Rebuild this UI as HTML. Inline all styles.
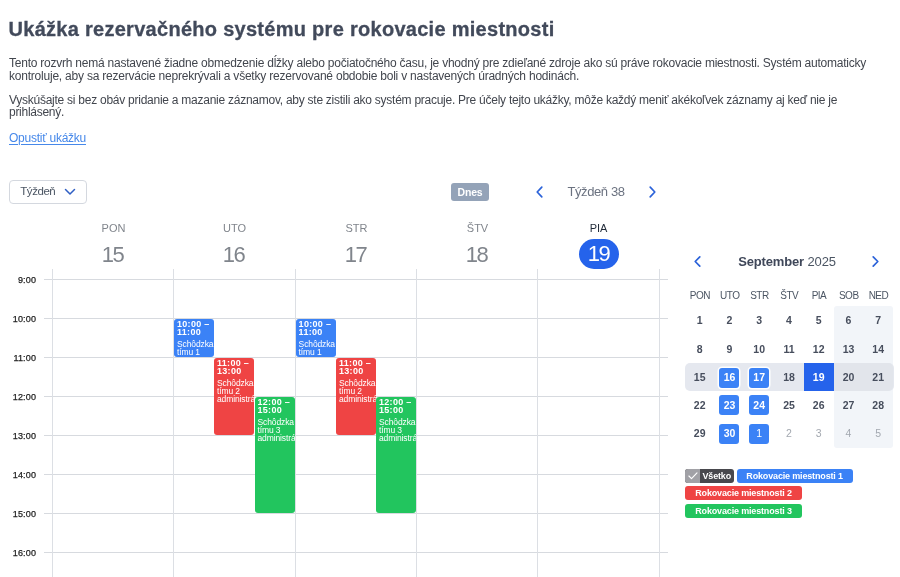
<!DOCTYPE html>
<html lang="sk">
<head>
<meta charset="utf-8">
<title>Ukážka rezervačného systému</title>
<style>
*{box-sizing:border-box;margin:0;padding:0}
html,body{width:900px;height:577px;overflow:hidden;background:#fff}
body{font-family:"Liberation Sans",sans-serif;color:#374151;position:relative}
#root{position:absolute;left:0;top:0;width:900px;height:577px;overflow:hidden;will-change:transform;transform:translateZ(0)}
.abs{position:absolute;white-space:nowrap}
h1{position:absolute;left:8.5px;top:15.7px;font-size:20px;line-height:26px;font-weight:bold;color:#424a5b;-webkit-text-stroke:0.3px #424a5b;white-space:nowrap;letter-spacing:0.282px}
.p{position:absolute;left:9px;font-size:12px;line-height:13px;color:#42464e;white-space:nowrap}
a.link{position:absolute;left:9px;top:130.7px;font-size:12px;line-height:14px;letter-spacing:-0.253px;color:#4688ea;text-decoration:underline;text-decoration-thickness:0.8px;text-underline-offset:1.5px;white-space:nowrap}
.sel{position:absolute;left:9px;top:180px;width:78px;height:24px;border:1px solid #d4d8df;border-radius:4px;background:#fff}
.sel span{position:absolute;left:10.3px;top:3.1px;font-size:11.5px;line-height:14px;color:#4b5563;letter-spacing:-0.45px}
.sel svg{position:absolute;left:54.3px;top:7px}
.dnes{position:absolute;left:451px;top:183px;width:38px;height:18px;border-radius:3px;background:#94a3b8;color:#fff;font-size:10.5px;line-height:18px;text-align:center;font-weight:bold;letter-spacing:-0.2px}
.wk{position:absolute;left:546px;top:184px;width:100px;text-align:center;letter-spacing:-0.4px;font-size:13px;line-height:16px;color:#6b7280}
.dn{position:absolute;top:220.6px;width:121px;padding-left:2px;text-align:center;font-size:11px;line-height:14px;color:#80858c}
.dd{position:absolute;top:241.2px;width:121px;text-align:center;font-size:22px;line-height:27px;color:#80858c;letter-spacing:-1.4px}
.pill{position:absolute;left:578.5px;top:239.3px;width:40px;height:29.3px;border-radius:15px;background:#2563eb;color:#fff;font-size:22px;line-height:29px;text-align:center;letter-spacing:-1.4px}
.hl{position:absolute;left:44px;width:624px;height:1px;background:#d7dadf}
.vl{position:absolute;top:269px;width:1px;height:308px;background:#dcdfe4}
.tm{position:absolute;left:0;width:36.2px;text-align:right;font-size:9px;line-height:13px;color:#222;margin-top:0.4px;letter-spacing:0.18px;-webkit-text-stroke:0.25px #222}
.ev{position:absolute;width:40px;border-radius:3px;color:#fff;overflow:hidden;padding:0 0 0 3px;font-size:8.5px;letter-spacing:-0.12px;line-height:8px;white-space:nowrap}
.ev b{display:block;font-size:9px;line-height:8.8px;letter-spacing:0.3px;padding-top:0.7px}
.ev i{display:block;height:2.6px}
.blue{background:#3b82f6}.red{background:#ef4444}.green{background:#22c55e}
</style>
</head>
<body>
<div id="root">
<h1>Ukážka rezervačného systému pre rokovacie miestnosti</h1>
<div class="p" style="top:57px;letter-spacing:-0.231px">Tento rozvrh nemá nastavené žiadne obmedzenie dĺžky alebo počiatočného času, je vhodný pre zdieľané zdroje ako sú práve rokovacie miestnosti. Systém automaticky</div>
<div class="p" style="top:70px;letter-spacing:-0.217px">kontroluje, aby sa rezervácie neprekrývali a všetky rezervované obdobie boli v nastavených úradných hodinách.</div>
<div class="p" style="top:93.6px;letter-spacing:-0.255px">Vyskúšajte si bez obáv pridanie a mazanie záznamov, aby ste zistili ako systém pracuje. Pre účely tejto ukážky, môže každý meniť akékoľvek záznamy aj keď nie je</div>
<div class="p" style="top:106.4px;letter-spacing:-0.276px">prihlásený.</div>
<a class="link">Opustiť ukážku</a>

<div class="sel"><span>Týždeň</span><svg width="12" height="8" viewBox="0 0 12 8"><path d="M1.5 1.5 L6 6 L10.5 1.5" fill="none" stroke="#2f5fc4" stroke-width="1.5" stroke-linecap="round" stroke-linejoin="round"/></svg></div>
<div class="dnes">Dnes</div>
<svg class="abs" style="left:535px;top:185px" width="9" height="14" viewBox="0 0 9 14"><path d="M6.8 2.2 L2.2 7 L6.8 11.8" fill="none" stroke="#2b62d9" stroke-width="1.7" stroke-linecap="round" stroke-linejoin="round"/></svg>
<div class="wk">Týždeň 38</div>
<svg class="abs" style="left:648px;top:185px" width="9" height="14" viewBox="0 0 9 14"><path d="M2.2 2.2 L6.8 7 L2.2 11.8" fill="none" stroke="#2b62d9" stroke-width="1.7" stroke-linecap="round" stroke-linejoin="round"/></svg>

<div class="dn" style="left:52px">PON</div><div class="dd" style="left:52px">15</div>
<div class="dn" style="left:173px">UTO</div><div class="dd" style="left:173px">16</div>
<div class="dn" style="left:295px">STR</div><div class="dd" style="left:295px">17</div>
<div class="dn" style="left:416px">ŠTV</div><div class="dd" style="left:416px">18</div>
<div class="dn" style="left:537px;color:#1f2937">PIA</div><div class="pill">19</div>

<div class="hl" style="top:279px"></div><div class="hl" style="top:318px"></div><div class="hl" style="top:357px"></div><div class="hl" style="top:396px"></div><div class="hl" style="top:435px"></div><div class="hl" style="top:474px"></div><div class="hl" style="top:513px"></div><div class="hl" style="top:552px"></div>
<div class="vl" style="left:52px"></div><div class="vl" style="left:173px"></div><div class="vl" style="left:295px"></div><div class="vl" style="left:416px"></div><div class="vl" style="left:537px"></div><div class="vl" style="left:659px"></div>
<div class="tm" style="top:274px">9:00</div><div class="tm" style="top:313px">10:00</div><div class="tm" style="top:352px">11:00</div><div class="tm" style="top:391px">12:00</div><div class="tm" style="top:430px">13:00</div><div class="tm" style="top:469px">14:00</div><div class="tm" style="top:508px">15:00</div><div class="tm" style="top:547px">16:00</div>

<div class="ev blue" style="left:174px;top:319px;height:38px"><b>10:00 –<br>11:00</b><i></i>Schôdzka<br>tímu 1</div>
<div class="ev red" style="left:214px;top:358px;height:77px;width:40.4px"><b>11:00 –<br>13:00</b><i></i>Schôdzka<br>tímu 2<br>administrátorov</div>
<div class="ev green" style="left:254.5px;top:397px;height:116px;width:40.2px"><b>12:00 –<br>15:00</b><i></i>Schôdzka<br>tímu 3<br>administrátorov</div>
<div class="ev blue" style="left:295.6px;top:319px;height:38px"><b>10:00 –<br>11:00</b><i></i>Schôdzka<br>tímu 1</div>
<div class="ev red" style="left:336px;top:358px;height:77px;width:39.8px"><b>11:00 –<br>13:00</b><i></i>Schôdzka<br>tímu 2<br>administrátorov</div>
<div class="ev green" style="left:376px;top:397px;height:116px;width:40.2px"><b>12:00 –<br>15:00</b><i></i>Schôdzka<br>tímu 3<br>administrátorov</div>

<style>
.mh{position:absolute;left:737px;top:253.5px;width:100px;text-align:center;font-size:13px;letter-spacing:-0.15px;line-height:16px;color:#4b5563;white-space:nowrap}
.mh b{color:#3f4759}
.wkend{position:absolute;left:834px;top:306px;width:59px;height:142px;background:#f2f5f9;border-radius:3px}
.curwk{position:absolute;left:685px;top:363px;width:208.5px;height:28.3px;background:#e5e8ef;border-radius:5px}
.curwk2{position:absolute;left:834px;top:363px;width:59px;height:28px;background:#e2e5eb;border-radius:0 5px 5px 0}
.today{position:absolute;left:804px;top:363px;width:30px;height:28px;background:#2563eb}
.dw{position:absolute;top:289.6px;width:30px;text-align:center;letter-spacing:-0.5px;padding-left:0.5px;font-size:10px;line-height:12px;color:#4b5563}
.d{position:absolute;width:30px;text-align:center;font-size:10.5px;line-height:13px;font-weight:bold;color:#474e5d}
.d.o{font-weight:normal;color:#a3a8b0}
.d.w{color:#fff}
.bx{position:absolute;width:20px;height:20px;border-radius:3px;background:#3b82f6}
.bx.hl2{box-shadow:0 0 0 1.5px #fff}
.tag{position:absolute;height:14px;border-radius:3px;color:#fff;font-size:9px;line-height:14px;letter-spacing:-0.16px;font-weight:bold;text-align:center;white-space:nowrap}
</style>
<svg class="abs" style="left:693px;top:255px" width="9" height="13" viewBox="0 0 9 13"><path d="M6.8 1.8 L2.2 6.5 L6.8 11.2" fill="none" stroke="#2b62d9" stroke-width="1.7" stroke-linecap="round" stroke-linejoin="round"/></svg>
<div class="mh"><b>September</b> 2025</div>
<svg class="abs" style="left:871px;top:255px" width="9" height="13" viewBox="0 0 9 13"><path d="M2.2 1.8 L6.8 6.5 L2.2 11.2" fill="none" stroke="#2b62d9" stroke-width="1.7" stroke-linecap="round" stroke-linejoin="round"/></svg>
<div class="wkend"></div><div class="curwk"></div><div class="curwk2"></div><div class="today"></div>
<div class="dw" style="left:684.7px">PON</div><div class="dw" style="left:714.5px">UTO</div><div class="dw" style="left:744.2px">STR</div><div class="dw" style="left:774.0px">ŠTV</div><div class="dw" style="left:803.7px">PIA</div><div class="dw" style="left:833.5px">SOB</div><div class="dw" style="left:863.2px">NED</div>
<div class="d" style="left:684.7px;top:314.0px">1</div><div class="d" style="left:714.5px;top:314.0px">2</div><div class="d" style="left:744.2px;top:314.0px">3</div><div class="d" style="left:774.0px;top:314.0px">4</div><div class="d" style="left:803.7px;top:314.0px">5</div><div class="d" style="left:833.5px;top:314.0px">6</div><div class="d" style="left:863.2px;top:314.0px">7</div>
<div class="d" style="left:684.7px;top:342.5px">8</div><div class="d" style="left:714.5px;top:342.5px">9</div><div class="d" style="left:744.2px;top:342.5px">10</div><div class="d" style="left:774.0px;top:342.5px">11</div><div class="d" style="left:803.7px;top:342.5px">12</div><div class="d" style="left:833.5px;top:342.5px">13</div><div class="d" style="left:863.2px;top:342.5px">14</div>
<div class="d" style="left:684.7px;top:371.0px">15</div><div class="bx hl2" style="left:719.2px;top:367.5px"></div><div class="d w" style="left:714.5px;top:371.0px">16</div><div class="bx hl2" style="left:748.9px;top:367.5px"></div><div class="d w" style="left:744.2px;top:371.0px">17</div><div class="d" style="left:774.0px;top:371.0px">18</div><div class="d w" style="left:803.7px;top:371.0px">19</div><div class="d" style="left:833.5px;top:371.0px">20</div><div class="d" style="left:863.2px;top:371.0px">21</div>
<div class="d" style="left:684.7px;top:398.9px">22</div><div class="bx" style="left:719.2px;top:395.3px"></div><div class="d w" style="left:714.5px;top:398.9px">23</div><div class="bx" style="left:748.9px;top:395.3px"></div><div class="d w" style="left:744.2px;top:398.9px">24</div><div class="d" style="left:774.0px;top:398.9px">25</div><div class="d" style="left:803.7px;top:398.9px">26</div><div class="d" style="left:833.5px;top:398.9px">27</div><div class="d" style="left:863.2px;top:398.9px">28</div>
<div class="d" style="left:684.7px;top:427.3px">29</div><div class="bx" style="left:719.2px;top:423.7px"></div><div class="d w" style="left:714.5px;top:427.3px">30</div><div class="bx" style="left:748.9px;top:423.7px"></div><div class="d w o w" style="left:744.2px;top:427.3px">1</div><div class="d o" style="left:774.0px;top:427.3px">2</div><div class="d o" style="left:803.7px;top:427.3px">3</div><div class="d o" style="left:833.5px;top:427.3px">4</div><div class="d o" style="left:863.2px;top:427.3px">5</div>

<div class="tag" style="left:685px;top:468.8px;width:48.5px;background:#48484d;text-align:left;overflow:hidden"><span style="position:absolute;left:0;top:0;width:15px;height:14px;background:#a1a1a6"></span><svg style="position:absolute;left:2.8px;top:3.6px" width="10" height="8" viewBox="0 0 10 8"><path d="M0.9 4 L3.5 6.6 L9 0.9" fill="none" stroke="#fff" stroke-width="1.15" stroke-linecap="round" stroke-linejoin="round"/></svg><span style="position:absolute;left:17.5px;top:0">Všetko</span></div>
<div class="tag" style="left:736.6px;top:469px;width:116px;background:#3b82f6">Rokovacie miestnosti 1</div>
<div class="tag" style="left:685px;top:486px;width:117px;background:#ef4444;line-height:15.4px">Rokovacie miestnosti 2</div>
<div class="tag" style="left:685px;top:504px;width:117px;background:#22c55e;line-height:15px">Rokovacie miestnosti 3</div>
<!--MINIEND-->
</div>
</body>
</html>
